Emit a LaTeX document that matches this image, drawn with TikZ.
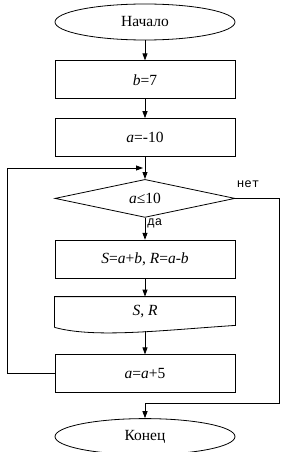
\documentclass[tikz,border=0pt]{standalone}
\usepackage{fontspec}
\setmainfont{Liberation Serif}
\newfontfamily\labfont{Liberation Mono}
\usetikzlibrary{arrows.meta,positioning,shapes.geometric}

\begin{document}
\begin{tikzpicture}[
  font=\fontsize{15.5}{18}\selectfont,
  line width=0.8pt,
  term/.style={draw, ellipse, minimum width=180pt, minimum height=36pt, inner sep=0pt},
  proc/.style={draw, rectangle, minimum width=180pt, minimum height=38pt, inner sep=0pt},
  cond/.style={draw, diamond, aspect=4.7, minimum width=180pt, minimum height=38pt, inner sep=0pt},
  outp/.style={rectangle, minimum width=180pt, minimum height=30pt, inner sep=0pt},
  arr/.style={-{Triangle[length=7pt,width=5pt]}},
  lab/.style={font=\labfont\fontsize{12.5}{14}\selectfont, inner sep=1pt},
]
\useasboundingbox (-145pt,22pt) rectangle (143pt,-430pt);
\node[term] (start) {Начало};
\node[proc, below=20pt of start] (b7) {\textit{b}=7};
\node[proc, below=19pt of b7] (a10) {\textit{a}=-10};
\node[cond, below=22pt of a10] (cmp) {\textit{a}≤10};
\node[proc, below=22pt of cmp] (calc) {\textit{S}=\textit{a}+\textit{b}, \textit{R}=\textit{a}-\textit{b}};
\node[outp, below=18pt of calc] (out) {\textit{S}, \textit{R}};
\node[proc, below=27pt of out] (inc) {\textit{a}=\textit{a}+5};
\node[term, below=25pt of inc] (stop) {Конец};
% output block with wavy bottom
\draw (out.south west) -- (out.north west) -- (out.north east) -- ([yshift=2pt]out.south east)
  .. controls +(-75pt,-5pt) and +(40pt,-11pt) .. (out.south west);
\coordinate (srb) at ([yshift=-4pt]out.south);
\coordinate (jn) at ([yshift=-11pt]a10.south);
\coordinate (mrg) at ([yshift=15pt]stop.north);
\node[lab, anchor=south west] (no) at ([yshift=9pt]cmp.east) {нет};
\node[lab, anchor=north west] (yes) at ([xshift=1pt]cmp.south) {да};
\draw[arr] (start) -- (b7);
\draw[arr] (b7) -- (a10);
\draw[arr] (a10) -- (cmp);
\draw[arr] (cmp) -- (calc);
\draw[arr] (calc) -- (out);
\draw[arr] (srb) -- (inc);
\draw[arr] (inc.west) -- ++(-47pt,0) |- ([xshift=-2pt]jn);
\draw (cmp.east) -- ++(44pt,0) |- (mrg);
\draw[arr] (mrg) -- (stop);
\end{tikzpicture}
\end{document}
